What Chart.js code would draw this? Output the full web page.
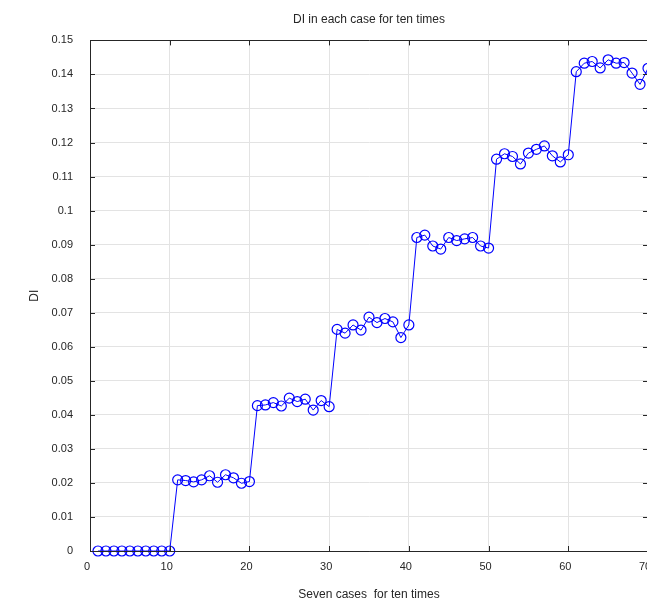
<!DOCTYPE html>
<html>
<head>
<meta charset="utf-8">
<script src="https://cdn.jsdelivr.net/npm/chart.js@4/dist/chart.umd.min.js"></script>
<style>
  html, body { margin: 0; padding: 0; overflow: hidden; background: #fff; }
  #wrap { position: absolute; left: 0; top: 0; width: 647px; height: 605px; overflow: hidden; }
  canvas { position: absolute; left: 0; top: 0; }
</style>
</head>
<body>
<div id="wrap"><canvas id="chart" width="690" height="605"></canvas></div>
<script>
// data
const caseIndex = Array.from({ length: 70 }, (_, i) => i + 1);
const diValues = [
    0, 0, 0, 0, 0, 0, 0, 0, 0, 0,
    0.0209, 0.0207, 0.0203, 0.0209, 0.0221, 0.0202, 0.0224, 0.0215, 0.0199, 0.0204,
    0.0427, 0.0429, 0.0436, 0.0426, 0.0449, 0.0439, 0.0446, 0.0414, 0.0442, 0.0424,
    0.0651, 0.0640, 0.0664, 0.0649, 0.0687, 0.0671, 0.0683, 0.0673, 0.0627, 0.0664,
    0.0921, 0.0928, 0.0896, 0.0887, 0.0921, 0.0912, 0.0917, 0.0921, 0.0896, 0.0890,
    0.1151, 0.1167, 0.1159, 0.1137, 0.1169, 0.1180, 0.1190, 0.1161, 0.1143, 0.1164,
    0.1408, 0.1433, 0.1438, 0.1419, 0.1443, 0.1433, 0.1435, 0.1404, 0.1371, 0.1418
];
const xTicks = [0, 10, 20, 30, 40, 50, 60, 70];
const yTicks = [0, 0.01, 0.02, 0.03, 0.04, 0.05, 0.06, 0.07, 0.08, 0.09, 0.1, 0.11, 0.12, 0.13, 0.14, 0.15];
const yTickLabels = ['0', '0.01', '0.02', '0.03', '0.04', '0.05', '0.06', '0.07', '0.08', '0.09', '0.1', '0.11', '0.12', '0.13', '0.14', '0.15'];

const axisColor = '#262626';
const gridColor = '#e3e3e3';
const fontFamily = '"Liberation Sans", Arial, sans-serif';

// box around the axes + inward tick marks (matlab style)
const boxPlugin = {
    id: 'boxPlugin',
    afterDraw(chart) {
        const { ctx, chartArea: a, scales } = chart;
        const len = 5;
        ctx.save();
        ctx.strokeStyle = axisColor;
        ctx.lineWidth = 1;
        ctx.beginPath();
        ctx.rect(Math.round(a.left) + 0.5, Math.round(a.top) + 0.5, Math.round(a.right - a.left), Math.round(a.bottom - a.top));
        xTicks.forEach(v => {
            const px = Math.round(scales.x.getPixelForValue(v)) + 0.5;
            ctx.moveTo(px, a.bottom); ctx.lineTo(px, a.bottom - len);
            ctx.moveTo(px, a.top); ctx.lineTo(px, a.top + len);
        });
        yTicks.forEach(v => {
            const py = Math.round(scales.y.getPixelForValue(v)) + 0.5;
            ctx.moveTo(a.left, py); ctx.lineTo(a.left + len, py);
            ctx.moveTo(a.right, py); ctx.lineTo(a.right - len, py);
        });
        ctx.stroke();
        ctx.restore();
    }
};

const ctx = document.getElementById('chart').getContext('2d');
new Chart(ctx, {
    type: 'line',
    data: {
        labels: caseIndex,
        datasets: [{
            data: caseIndex.map((x, i) => ({ x: x, y: diValues[i] })),
            borderColor: '#0000ff',
            borderWidth: 1,
            backgroundColor: 'rgba(0,0,0,0)',
            pointRadius: 5,
            pointBorderWidth: 1.2,
            pointBorderColor: '#0000ff',
            pointBackgroundColor: 'rgba(0,0,0,0)',
            tension: 0,
            clip: false
        }]
    },
    options: {
        responsive: false,
        animation: false,
        events: [],
        layout: { padding: { left: 0, right: 42, top: 0, bottom: 0 } },
        plugins: {
            legend: { display: false },
            tooltip: { enabled: false },
            title: {
                display: true,
                text: 'DI in each case for ten times',
                color: axisColor,
                fullSize: false,
                font: { family: fontFamily, size: 12, weight: 'normal' },
                padding: { top: 12, bottom: 14 }
            }
        },
        scales: {
            x: {
                type: 'linear',
                min: 0,
                max: 70,
                afterBuildTicks: s => { s.ticks = xTicks.map(v => ({ value: v })); },
                afterFit: s => { s.height = 54; },
                grid: { color: gridColor, drawTicks: false },
                border: { color: axisColor },
                ticks: {
                    color: axisColor,
                    padding: 9,
                    labelOffset: -3,
                    maxRotation: 0,
                    font: { family: fontFamily, size: 11 },
                    callback: v => String(v)
                },
                title: {
                    display: true,
                    text: 'Seven cases  for ten times',
                    color: axisColor,
                    font: { family: fontFamily, size: 12 },
                    padding: { top: 0, bottom: 3 }
                }
            },
            y: {
                type: 'linear',
                min: 0,
                max: 0.15,
                afterBuildTicks: s => { s.ticks = yTicks.map(v => ({ value: v })); },
                afterFit: s => { s.width = 90; },
                grid: { color: gridColor, drawTicks: false },
                border: { color: axisColor },
                ticks: {
                    color: axisColor,
                    padding: 17,
                    font: { family: fontFamily, size: 11 },
                    callback: (v, i) => yTickLabels[i]
                },
                title: {
                    display: true,
                    text: 'DI',
                    color: axisColor,
                    font: { family: fontFamily, size: 12 },
                    padding: { top: 27, bottom: 0 }
                }
            }
        }
    },
    plugins: [boxPlugin]
});
</script>
</body>
</html>
